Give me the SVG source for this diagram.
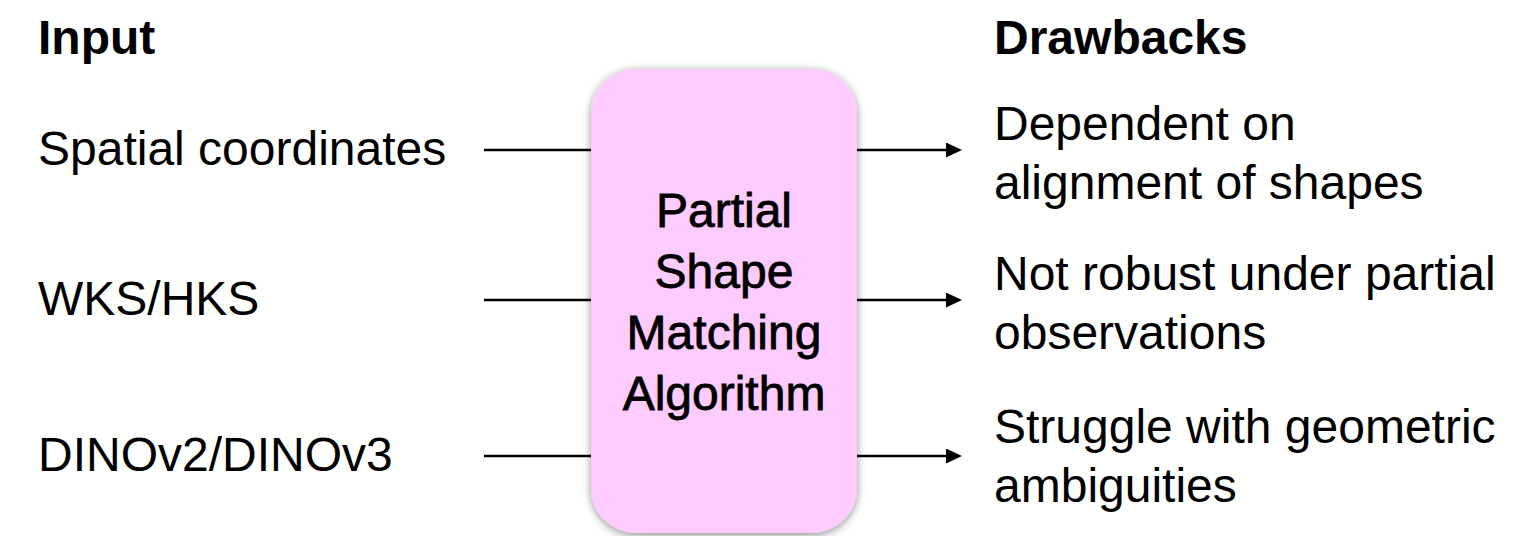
<svg xmlns="http://www.w3.org/2000/svg" width="1517" height="536" viewBox="0 0 1517 536">
<style>
text{font-family:"Liberation Sans",Arial,sans-serif;fill:#000;font-size:48px}
.h{font-weight:bold}
.c{text-anchor:middle;stroke:#000;stroke-width:0.8}
.ln{stroke:#000;stroke-width:2.6;fill:none}
</style>
<defs>
<marker id="ah" viewBox="0 0 16 15" refX="2" refY="7.5" markerWidth="16" markerHeight="15" markerUnits="userSpaceOnUse" orient="auto"><path d="M0,0 L16,7.5 L0,15 z" fill="#000"/></marker>
<filter id="sh" x="-10%" y="-10%" width="120%" height="120%"><feDropShadow dx="0" dy="2" stdDeviation="4" flood-color="#000" flood-opacity="0.45"/></filter>
</defs>
<g id="connectors">
<line class="ln" x1="484" y1="150" x2="592" y2="150"/>
<line class="ln" x1="484" y1="300" x2="592" y2="300"/>
<line class="ln" x1="484" y1="456" x2="592" y2="456"/>
<line class="ln" x1="856" y1="150" x2="948" y2="150" marker-end="url(#ah)"/>
<line class="ln" x1="856" y1="300" x2="948" y2="300" marker-end="url(#ah)"/>
<line class="ln" x1="856" y1="456" x2="948" y2="456" marker-end="url(#ah)"/>
</g>
<g id="input-header"><text class="h" x="38" y="54">Input</text></g>
<g id="drawbacks-header"><text class="h" x="994" y="54">Drawbacks</text></g>
<g id="in1"><text x="38" y="165">Spatial coordinates</text></g>
<g id="in2"><text x="38" y="315">WKS/HKS</text></g>
<g id="in3"><text x="38" y="471">DINOv2/DINOv3</text></g>
<g id="algo">
<rect x="591" y="69" width="266" height="464" rx="45" ry="45" fill="#fdcbfe" filter="url(#sh)"/>
<text class="c" x="724" y="227">Partial</text>
<text class="c" x="724" y="288">Shape</text>
<text class="c" x="724" y="349">Matching</text>
<text class="c" x="724" y="410">Algorithm</text>
</g>
<g id="d1"><text x="994" y="140">Dependent on</text><text x="994" y="199">alignment of shapes</text></g>
<g id="d2"><text x="994" y="290">Not robust under partial</text><text x="994" y="349">observations</text></g>
<g id="d3"><text x="994" y="443">Struggle with geometric</text><text x="994" y="502">ambiguities</text></g>
</svg>
